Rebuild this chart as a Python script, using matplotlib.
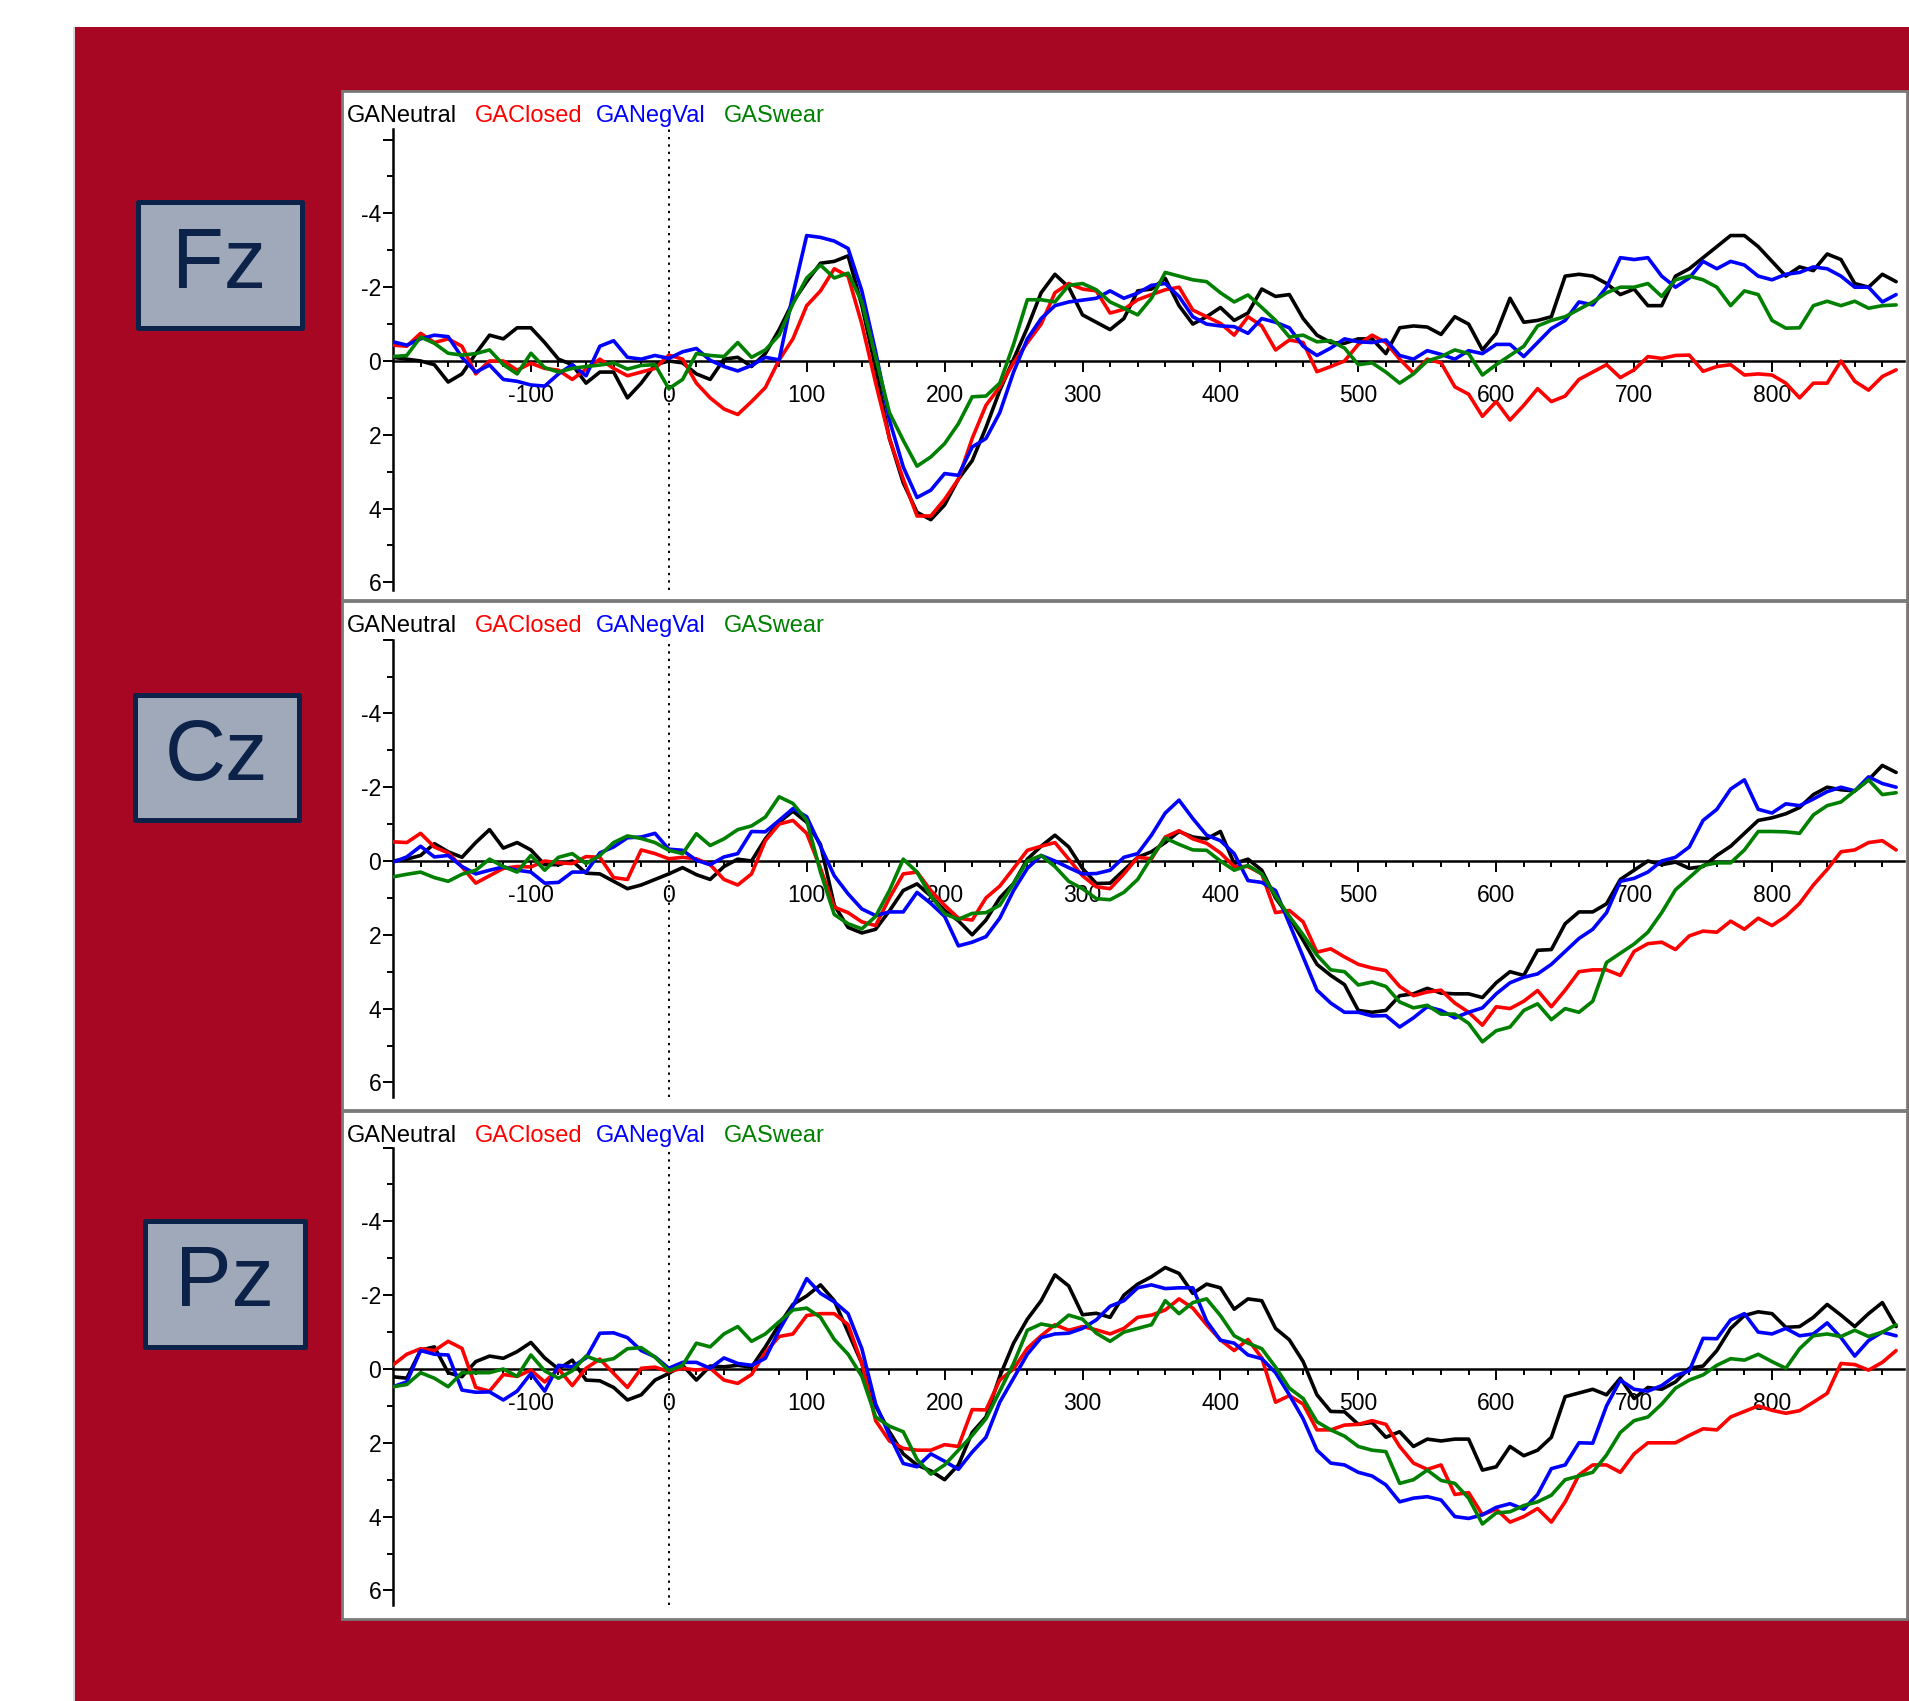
import numpy as np
import matplotlib
matplotlib.use('Agg')
import matplotlib.pyplot as plt
from matplotlib.patches import Rectangle

plt.rcParams['font.family'] = ['Liberation Sans', 'DejaVu Sans']

# ---------------- data (µV, negative up), sampled every 10 ms ----------------
times = np.arange(-200, 900, 10)

fz_neutral = [-0.1, -0.05, 0.0, 0.1, 0.57, 0.35, -0.2, -0.7, -0.6, -0.9,
              -0.9, -0.5, -0.05, 0.1, 0.6, 0.3, 0.3, 1.0, 0.6, 0.1,
              0.0, 0.05, 0.35, 0.5, -0.05, -0.1, 0.15, -0.2, -0.85, -1.6,
              -2.15, -2.65, -2.7, -2.85, -1.5, 0.2, 2.1, 3.3, 4.1, 4.3,
              3.9, 3.2, 2.7, 1.8, 0.8, -0.05, -0.9, -1.85, -2.35, -2.0,
              -1.25, -1.05, -0.85, -1.15, -1.9, -1.95, -2.24, -1.5, -1.0, -1.2,
              -1.45, -1.1, -1.3, -1.95, -1.75, -1.8, -1.15, -0.7, -0.5, -0.48,
              -0.6, -0.6, -0.2, -0.9, -0.95, -0.92, -0.72, -1.2, -1.0, -0.3,
              -0.75, -1.7, -1.05, -1.1, -1.2, -2.3, -2.35, -2.3, -2.1, -1.8,
              -1.95, -1.5, -1.5, -2.3, -2.5, -2.8, -3.1, -3.4, -3.4, -3.1,
              -2.7, -2.3, -2.55, -2.45, -2.9, -2.75, -2.1, -2.0, -2.35, -2.15]
fz_closed = [-0.43, -0.4, -0.75, -0.5, -0.6, -0.4, 0.35, 0.0, 0.0, 0.25,
             0.06, 0.2, 0.25, 0.5, 0.22, -0.05, 0.2, 0.4, 0.3, 0.2,
             -0.16, -0.05, 0.6, 1.0, 1.3, 1.45, 1.1, 0.72, -0.03, -0.6,
             -1.5, -1.9, -2.5, -2.3, -1.0, 0.6, 2.1, 3.2, 4.2, 4.2,
             3.75, 3.2, 2.1, 1.2, 0.7, 0.05, -0.5, -1.0, -1.85, -2.1,
             -1.95, -1.9, -1.3, -1.4, -1.66, -1.8, -1.93, -2.0, -1.38, -1.2,
             -1.02, -0.7, -1.2, -0.95, -0.3, -0.57, -0.5, 0.29, 0.15, 0.0,
             -0.45, -0.7, -0.5, -0.05, 0.33, -0.05, 0.05, 0.7, 0.9, 1.5,
             1.1, 1.6, 1.2, 0.75, 1.1, 0.95, 0.5, 0.3, 0.1, 0.45,
             0.24, -0.12, -0.07, -0.15, -0.16, 0.28, 0.15, 0.1, 0.38, 0.35,
             0.38, 0.6, 1.0, 0.6, 0.6, 0.0, 0.55, 0.79, 0.42, 0.24]
fz_negval = [-0.52, -0.43, -0.6, -0.7, -0.66, -0.1, 0.3, 0.11, 0.5, 0.55,
             0.65, 0.68, 0.35, 0.1, 0.4, -0.4, -0.55, -0.1, -0.05, -0.15,
             -0.07, -0.25, -0.34, -0.02, 0.15, 0.27, 0.12, -0.1, -0.03, -1.8,
             -3.4, -3.35, -3.25, -3.05, -1.9, -0.25, 1.6, 2.87, 3.7, 3.5,
             3.05, 3.1, 2.33, 2.1, 1.4, 0.3, -0.6, -1.15, -1.5, -1.6,
             -1.65, -1.7, -1.9, -1.7, -1.84, -2.05, -2.1, -1.75, -1.2, -1.0,
             -0.95, -0.93, -0.75, -1.15, -1.05, -0.9, -0.4, -0.15, -0.35, -0.6,
             -0.52, -0.5, -0.57, -0.15, -0.05, -0.28, -0.18, -0.05, -0.28, -0.2,
             -0.45, -0.45, -0.12, -0.5, -0.88, -1.1, -1.6, -1.52, -2.0, -2.8,
             -2.75, -2.8, -2.3, -2.0, -2.25, -2.7, -2.5, -2.7, -2.6, -2.3,
             -2.2, -2.35, -2.4, -2.55, -2.5, -2.3, -2.0, -2.0, -1.6, -1.8]
fz_swear = [-0.12, -0.15, -0.65, -0.48, -0.21, -0.16, -0.2, -0.3, 0.1, 0.35,
            -0.21, 0.18, 0.3, 0.2, 0.15, 0.11, 0.05, 0.22, 0.12, 0.1,
            0.75, 0.5, -0.2, -0.15, -0.12, -0.5, -0.1, -0.3, -0.7, -1.55,
            -2.25, -2.6, -2.25, -2.38, -1.6, -0.1, 1.4, 2.15, 2.85, 2.6,
            2.24, 1.7, 0.97, 0.95, 0.6, -0.45, -1.66, -1.66, -1.6, -2.05,
            -2.1, -1.93, -1.6, -1.43, -1.25, -1.7, -2.4, -2.3, -2.2, -2.15,
            -1.85, -1.6, -1.79, -1.45, -1.1, -0.65, -0.7, -0.52, -0.55, -0.35,
            0.1, 0.05, 0.3, 0.6, 0.35, 0.0, -0.12, -0.3, -0.2, 0.38,
            0.1, -0.15, -0.4, -0.95, -1.1, -1.2, -1.4, -1.6, -1.85, -2.0,
            -2.0, -2.1, -1.75, -2.2, -2.3, -2.2, -2.0, -1.5, -1.9, -1.8,
            -1.1, -0.89, -0.9, -1.5, -1.62, -1.5, -1.62, -1.43, -1.5, -1.52]

cz_neutral = [0.0, -0.05, -0.15, -0.47, -0.25, -0.1, -0.5, -0.85, -0.35, -0.5,
              -0.3, 0.1, 0.1, 0.0, 0.33, 0.35, 0.55, 0.75, 0.65, 0.5,
              0.35, 0.18, 0.37, 0.5, 0.15, -0.05, 0.0, -0.6, -1.05, -1.35,
              -1.05, -0.45, 1.2, 1.8, 1.95, 1.85, 1.35, 0.8, 0.62, 0.95,
              1.34, 1.62, 2.0, 1.6, 1.0, 0.61, -0.05, -0.4, -0.7, -0.38,
              0.2, 0.61, 0.6, 0.25, -0.1, -0.25, -0.5, -0.8, -0.65, -0.6,
              -0.8, 0.07, -0.05, 0.25, 1.0, 1.52, 2.15, 2.8, 3.1, 3.35,
              4.05, 4.1, 4.05, 3.65, 3.6, 3.45, 3.58, 3.6, 3.6, 3.7,
              3.3, 3.0, 3.1, 2.42, 2.4, 1.7, 1.38, 1.38, 1.16, 0.5,
              0.25, 0.0, 0.1, 0.03, 0.2, 0.15, -0.15, -0.4, -0.75, -1.1,
              -1.17, -1.28, -1.45, -1.8, -2.0, -1.93, -1.9, -2.2, -2.59, -2.4]
cz_closed = [-0.52, -0.5, -0.75, -0.38, -0.22, 0.16, 0.6, 0.4, 0.2, 0.15,
             0.16, 0.0, 0.05, 0.07, -0.12, -0.1, 0.45, 0.5, -0.3, -0.2,
             -0.06, -0.1, -0.06, 0.1, 0.5, 0.65, 0.35, -0.55, -1.0, -1.1,
             -0.75, 0.2, 1.25, 1.4, 1.65, 1.75, 1.0, 0.35, 0.3, 0.8,
             1.2, 1.55, 1.6, 1.0, 0.68, 0.2, -0.29, -0.4, -0.5, -0.05,
             0.4, 0.7, 0.75, 0.35, -0.1, -0.06, -0.65, -0.82, -0.6, -0.48,
             -0.22, 0.15, 0.15, 0.35, 1.4, 1.34, 1.65, 2.47, 2.38, 2.6,
             2.8, 2.9, 2.97, 3.4, 3.65, 3.55, 3.5, 3.85, 4.1, 4.45,
             3.95, 4.0, 3.8, 3.51, 3.95, 3.5, 3.0, 2.95, 2.95, 3.1,
             2.45, 2.24, 2.2, 2.4, 2.03, 1.9, 1.93, 1.63, 1.85, 1.55,
             1.75, 1.5, 1.15, 0.65, 0.23, -0.25, -0.3, -0.5, -0.55, -0.3]
cz_negval = [0.03, -0.11, -0.4, -0.11, -0.15, 0.15, 0.35, 0.25, 0.16, 0.25,
             0.3, 0.6, 0.58, 0.3, 0.3, -0.22, -0.38, -0.63, -0.65, -0.75,
             -0.32, -0.29, -0.02, 0.1, -0.11, -0.2, -0.8, -0.79, -1.1, -1.42,
             -1.2, -0.4, 0.4, 0.89, 1.3, 1.48, 1.38, 1.38, 0.85, 1.15,
             1.5, 2.3, 2.2, 2.05, 1.55, 0.8, 0.2, -0.15, 0.0, 0.18,
             0.35, 0.34, 0.25, -0.1, -0.2, -0.7, -1.3, -1.65, -1.15, -0.7,
             -0.55, -0.2, 0.53, 0.58, 0.8, 1.7, 2.6, 3.5, 3.85, 4.1,
             4.1, 4.2, 4.19, 4.5, 4.25, 3.95, 4.05, 4.25, 4.1, 3.98,
             3.6, 3.3, 3.15, 3.06, 2.8, 2.45, 2.1, 1.85, 1.4, 0.55,
             0.47, 0.3, 0.0, -0.1, -0.38, -1.1, -1.4, -1.95, -2.2, -1.4,
             -1.3, -1.55, -1.5, -1.68, -1.88, -2.0, -1.9, -2.28, -2.1, -2.0]
cz_swear = [0.43, 0.36, 0.3, 0.45, 0.55, 0.36, 0.25, -0.05, 0.15, 0.3,
            -0.15, 0.25, -0.1, -0.2, 0.07, -0.15, -0.5, -0.68, -0.61, -0.5,
            -0.29, -0.2, -0.74, -0.42, -0.6, -0.85, -0.95, -1.19, -1.74, -1.56,
            -1.1, 0.3, 1.45, 1.7, 1.84, 1.5, 0.8, -0.05, 0.3, 0.95,
            1.43, 1.58, 1.42, 1.4, 1.2, 0.61, 0.0, -0.15, 0.15, 0.55,
            0.75, 1.02, 1.05, 0.85, 0.5, -0.1, -0.62, -0.45, -0.3, -0.29,
            0.0, 0.25, 0.12, 0.35, 0.95, 1.5, 2.0, 2.55, 2.95, 3.0,
            3.36, 3.28, 3.4, 3.82, 3.98, 3.91, 4.15, 4.15, 4.4, 4.9,
            4.6, 4.5, 4.05, 3.87, 4.3, 4.0, 4.1, 3.8, 2.75, 2.5,
            2.25, 1.93, 1.4, 0.78, 0.45, 0.12, 0.05, 0.05, -0.3, -0.8,
            -0.8, -0.79, -0.75, -1.25, -1.5, -1.6, -1.9, -2.2, -1.8, -1.85]

pz_neutral = [0.21, 0.25, -0.51, -0.6, 0.1, 0.21, -0.2, -0.35, -0.29, -0.47,
              -0.72, -0.3, 0.0, -0.24, 0.3, 0.32, 0.5, 0.84, 0.7, 0.3,
              0.12, -0.1, 0.3, -0.08, -0.06, -0.1, -0.05, -0.6, -1.2, -1.75,
              -1.98, -2.28, -1.85, -1.0, -0.15, 1.0, 1.7, 2.3, 2.6, 2.76,
              3.0, 2.6, 1.72, 1.3, 0.2, -0.7, -1.35, -1.85, -2.55, -2.25,
              -1.47, -1.51, -1.4, -2.0, -2.3, -2.5, -2.75, -2.59, -2.05, -2.3,
              -2.2, -1.62, -1.9, -1.85, -1.1, -0.79, -0.2, 0.7, 1.15, 1.16,
              1.5, 1.45, 1.85, 1.7, 2.1, 1.9, 1.95, 1.9, 1.9, 2.74,
              2.65, 2.1, 2.35, 2.2, 1.85, 0.75, 0.65, 0.55, 0.7, 0.25,
              0.8, 0.5, 0.55, 0.35, -0.02, -0.08, -0.5, -1.1, -1.45, -1.55,
              -1.5, -1.13, -1.15, -1.4, -1.75, -1.46, -1.15, -1.5, -1.8, -1.15]
pz_closed = [-0.11, -0.4, -0.55, -0.5, -0.75, -0.56, 0.5, 0.6, 0.15, 0.2,
             0.03, 0.35, 0.0, 0.45, -0.02, -0.27, 0.12, 0.5, -0.02, -0.05,
             0.07, -0.02, 0.03, -0.02, 0.3, 0.39, 0.15, -0.45, -0.88, -0.95,
             -1.45, -1.5, -1.5, -1.2, -0.15, 1.4, 1.95, 2.15, 2.2, 2.2,
             2.05, 2.1, 1.1, 1.11, 0.3, 0.0, -0.56, -0.9, -1.2, -1.05,
             -1.15, -1.06, -0.95, -1.1, -1.4, -1.46, -1.6, -1.9, -1.65, -1.2,
             -0.79, -0.5, -0.8, -0.3, 0.9, 0.72, 0.95, 1.65, 1.65, 1.52,
             1.5, 1.4, 1.5, 2.1, 2.55, 2.72, 2.6, 3.4, 3.35, 3.95,
             3.8, 4.15, 4.0, 3.78, 4.15, 3.6, 2.87, 2.6, 2.6, 2.8,
             2.3, 2.0, 2.0, 2.0, 1.8, 1.62, 1.65, 1.3, 1.15, 1.0,
             1.12, 1.2, 1.13, 0.9, 0.66, -0.15, -0.12, 0.03, -0.18, -0.5]
pz_negval = [0.48, 0.35, -0.5, -0.4, -0.38, 0.57, 0.63, 0.62, 0.84, 0.6,
             0.12, 0.6, -0.1, -0.06, -0.3, -0.97, -0.98, -0.85, -0.5, -0.33,
             -0.02, -0.18, -0.18, -0.02, -0.3, -0.15, -0.1, -0.29, -1.05, -1.7,
             -2.45, -2.05, -1.82, -1.5, -0.55, 0.95, 1.8, 2.56, 2.65, 2.3,
             2.5, 2.72, 2.25, 1.85, 0.9, 0.25, -0.4, -0.85, -0.95, -0.97,
             -1.1, -1.33, -1.7, -1.85, -2.2, -2.28, -2.18, -2.2, -2.2, -1.3,
             -0.78, -0.7, -0.38, -0.28, 0.1, 0.7, 1.35, 2.2, 2.55, 2.6,
             2.8, 2.9, 3.14, 3.6, 3.5, 3.46, 3.55, 4.0, 4.05, 3.95,
             3.75, 3.65, 3.8, 3.4, 2.7, 2.6, 2.0, 2.01, 1.0, 0.3,
             0.55, 0.6, 0.45, 0.18, 0.05, -0.83, -0.82, -1.33, -1.5, -1.0,
             -0.95, -1.1, -0.9, -0.95, -1.25, -0.85, -0.35, -0.77, -1.0, -0.9]
pz_swear = [0.48, 0.42, 0.1, 0.25, 0.48, 0.1, 0.1, 0.1, 0.0, 0.2,
            -0.38, 0.05, 0.25, 0.05, -0.35, -0.21, -0.28, -0.55, -0.58, -0.32,
            0.05, -0.1, -0.7, -0.6, -0.95, -1.15, -0.75, -0.95, -1.28, -1.6,
            -1.65, -1.4, -0.8, -0.4, 0.2, 1.3, 1.55, 1.7, 2.45, 2.85,
            2.6, 2.2, 1.8, 1.35, 0.6, -0.15, -1.05, -1.22, -1.15, -1.46,
            -1.35, -0.97, -0.75, -1.0, -1.1, -1.2, -1.85, -1.5, -1.8, -1.9,
            -1.45, -0.9, -0.7, -0.55, -0.05, 0.52, 0.8, 1.43, 1.65, 1.82,
            2.1, 2.2, 2.24, 3.1, 3.0, 2.74, 3.02, 3.1, 3.5, 4.2,
            3.9, 3.87, 3.7, 3.6, 3.42, 3.0, 2.9, 2.8, 2.33, 1.72,
            1.4, 1.3, 0.95, 0.52, 0.3, 0.16, -0.1, -0.28, -0.24, -0.4,
            -0.2, -0.02, -0.55, -0.9, -0.95, -0.88, -1.05, -0.88, -1.0, -1.2]

series_names = ['GANeutral', 'GAClosed', 'GANegVal', 'GASwear']
series_colors = ['#000000', '#FF0000', '#0000FF', '#008000']
electrodes = ['Fz', 'Cz', 'Pz']
panel_data = {
    'Fz': [fz_neutral, fz_closed, fz_negval, fz_swear],
    'Cz': [cz_neutral, cz_closed, cz_negval, cz_swear],
    'Pz': [pz_neutral, pz_closed, pz_negval, pz_swear],
}
x_major = list(range(-100, 900, 100))
x_labels = [str(v) for v in x_major]
y_major = [-6, -4, -2, 0, 2, 4, 6]
y_labels = ['', '-4', '-2', '0', '2', '4', '6']

# ---------------- layout (pixels) ----------------
W, H, DPI = 1909, 1701, 100
fig = plt.figure(figsize=(W / DPI, H / DPI), dpi=DPI)
fig.patch.set_facecolor('white')

def fx(px):
    return px / W

def fy(py):
    return 1 - py / H

def prect(x0, y0, x1, y1, **kw):
    r = Rectangle((fx(x0), fy(y1)), fx(x1) - fx(x0), fy(y0) - fy(y1),
                  transform=fig.transFigure, **kw)
    fig.add_artist(r)
    return r

RED = '#A70722'
prect(73, 27, 75.5, H, facecolor='#d8d8d8', edgecolor='none', zorder=-5)
prect(75, 27, W + 5, H + 5, facecolor=RED, edgecolor='none', zorder=-5)

panels = [(91, 600), (601, 1110), (1111, 1619)]
zero_px = [361, 861, 1369]
unit_px = 36.9
ylims = [(-6.3, 6.2), (-6.0, 6.4), (-6.0, 6.4)]
legend_y = [116, 626, 1136]
legend_x = [347, 475, 596, 724]
boxes = [(135, 200, 304, 331), (132, 693, 301, 823), (142, 1218, 307, 1349)]
AX_L, AX_R = 393.0, 1904.4
XMIN, XMAX = -200, 896

for i, el in enumerate(electrodes):
    top, bot = panels[i]
    prect(342, top, 1907, bot, facecolor='white', edgecolor='#7a7a7a',
          linewidth=2.0, zorder=-4)

    ytop, ybot = ylims[i]
    ax_top = zero_px[i] + ytop * unit_px
    ax_bot = zero_px[i] + ybot * unit_px
    ax = fig.add_axes([fx(AX_L), fy(ax_bot), fx(AX_R) - fx(AX_L),
                       (ax_bot - ax_top) / H])
    ax.set_zorder(5)
    ax.patch.set_alpha(0)
    ax.set_xlim(XMIN, XMAX)
    ax.set_ylim(ybot, ytop)
    for s in ('top', 'right'):
        ax.spines[s].set_visible(False)
    ax.spines['bottom'].set_position(('data', 0))
    ax.spines['bottom'].set_linewidth(1.8)
    ax.spines['left'].set_linewidth(1.8)
    ax.spines['bottom'].set_zorder(2.5)

    ax.axvline(0, color='black', lw=1.4, ls=(0, (1.2, 2.6)), zorder=1)

    for vals, col in zip(panel_data[el], series_colors):
        ax.plot(times, vals, color=col, lw=2.6, zorder=3,
                solid_joinstyle='round', solid_capstyle='round')

    ax.set_xticks(x_major)
    ax.set_xticklabels(x_labels)
    ax.set_xticks(list(range(-180, 900, 20)), minor=True)
    ax.set_yticks(y_major)
    ax.set_yticklabels(y_labels)
    ax.set_yticks([-5, -3, -1, 1, 3, 5], minor=True)
    ax.tick_params(axis='x', which='major', direction='out', length=7.7,
                   width=1.4, pad=9.0, labelsize=16.5)
    ax.tick_params(axis='x', which='minor', direction='out', length=4.1,
                   width=1.4)
    ax.tick_params(axis='y', which='major', direction='out', length=7.2,
                   width=1.4, pad=1.2, labelsize=16.5)
    ax.tick_params(axis='y', which='minor', direction='out', length=4.3,
                   width=1.4)

    for name, col, lx in zip(series_names, series_colors, legend_x):
        fig.text(fx(lx), fy(legend_y[i]), name, color=col, fontsize=17,
                 ha='left', va='center', zorder=6)

    bx0, by0, bx1, by1 = boxes[i]
    prect(bx0 + 2.5, by0 + 2.5, bx1 - 2.5, by1 - 2.5, facecolor='#A0A9B9',
          edgecolor='#0C2249', linewidth=3.6, joinstyle='round', zorder=2)
    fig.text(fx((bx0 + bx1) / 2), fy((by0 + by1) / 2), el, color='#0C2249',
             fontsize=61, ha='center', va='center', zorder=3)

fig.savefig('out.png', dpi=DPI, facecolor='white')
